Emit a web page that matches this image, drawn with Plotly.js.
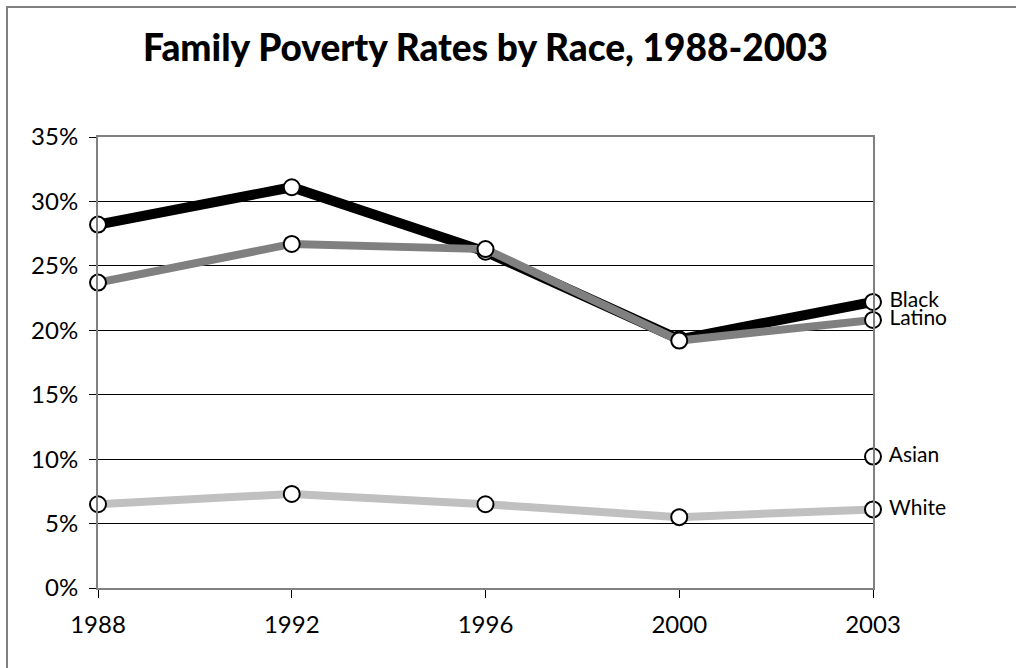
<!DOCTYPE html>
<html>
<head>
<meta charset="utf-8">
<script src="https://cdn.plot.ly/plotly-3.0.1.min.js"></script>
<style>
html,body{margin:0;padding:0;background:#fff;overflow:hidden;width:1016px;height:668px;}
#wrap{position:relative;width:1016px;height:668px;overflow:hidden;}
#chart{width:1016px;height:668px;}
#frame{position:absolute;left:6px;top:6px;width:1200px;height:900px;border-left:2px solid #808080;border-top:2px solid #808080;pointer-events:none;box-sizing:border-box;}
</style>
</head>
<body>
<div id="wrap"><div id="chart"></div><div id="frame"></div></div>
<script>
const years = ["1988", "1992", "1996", "2000", "2003"];
const black = [28.2, 31.1, 26.1, 19.3, 22.2];
const latino = [23.7, 26.7, 26.3, 19.2, 20.8];
const asian = [null, null, null, null, 10.2];
const white = [6.5, 7.3, 6.5, 5.5, 6.1];
const seriesNames = ["Black", "Latino", "Asian", "White"];
const yTicks = [0, 5, 10, 15, 20, 25, 30, 35];
const yTickText = ["0%", "5%", "10%", "15%", "20%", "25%", "30%", "35%"];

const FONT = "Lato, 'Open Sans', sans-serif";
const marker = {symbol: "circle", size: 16, color: "#ffffff", line: {color: "#000000", width: 2}};

function labelArr(name, vals) {
  return vals.map((v, i) => i === vals.length - 1 ? " " + name : "");
}

function mk(name, vals, color, width) {
  return {
    x: years, y: vals, name: name, type: "scatter",
    mode: width ? "lines+markers+text" : "markers+text",
    line: {color: color, width: width || 0},
    marker: marker,
    text: labelArr(name, vals),
    textposition: "middle right",
    textfont: {family: FONT, size: 21, color: "#000"},
    cliponaxis: false,
    hoverinfo: "skip"
  };
}

const data = [
  mk(seriesNames[0], black, "#000000", 10),
  mk(seriesNames[1], latino, "#808080", 8),
  mk(seriesNames[2], asian, "#000000", 0),
  mk(seriesNames[3], white, "#c0c0c0", 8)
];

const layout = {
  width: 1016, height: 668,
  margin: {l: 98, r: 143, t: 137, b: 80},
  paper_bgcolor: "#ffffff", plot_bgcolor: "#ffffff",
  showlegend: false,
  font: {family: FONT, color: "#000"},
  title: {text: "Family Poverty Rates by Race, 1988-2003", font: {family: FONT, size: 37, weight: 900, color: "#000"},
          x: 0.5, xref: "paper", xanchor: "center", y: 0.928, yref: "container", yanchor: "middle"},
  xaxis: {
    type: "category", range: [0, 4], showgrid: false, zeroline: false,
    showline: true, linecolor: "#808080", linewidth: 2, mirror: true,
    ticks: "outside", ticklen: 8, tickcolor: "#000", tickwidth: 1,
    ticklabelstandoff: 6,
    tickfont: {family: FONT, size: 24, color: "#000"}
  },
  yaxis: {
    range: [0, 35], tickvals: yTicks, ticktext: yTickText,
    showgrid: true, gridcolor: "#000000", gridwidth: 1, zeroline: false,
    showline: true, linecolor: "#808080", linewidth: 2, mirror: true,
    ticks: "outside", ticklen: 7, tickcolor: "#000", tickwidth: 1,
    ticklabelstandoff: 6,
    tickfont: {family: FONT, size: 24, color: "#000"}
  }
};

Plotly.newPlot("chart", data, layout, {staticPlot: true});
</script>
</body>
</html>
